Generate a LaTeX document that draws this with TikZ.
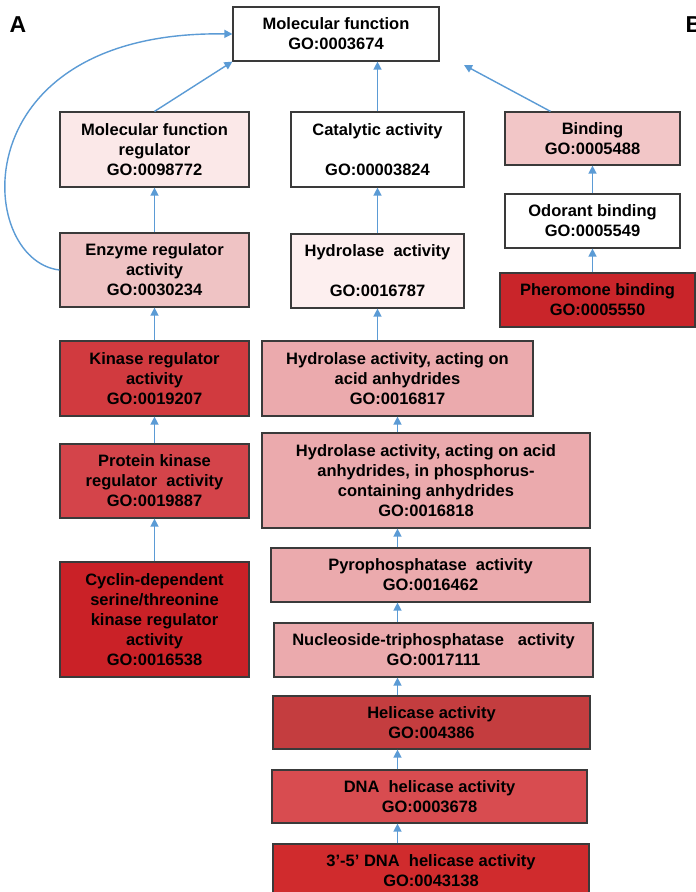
\documentclass[tikz,border=0pt]{standalone}
\usepackage{fontspec}
\setmainfont{Liberation Sans}
\usetikzlibrary{arrows.meta,calc}
\definecolor{boxline}{HTML}{3A3A3A}
\definecolor{arrblue}{HTML}{5B9BD5}
\definecolor{cvlA}{HTML}{FBE8E8}
\definecolor{cvlB}{HTML}{FDEFEF}
\definecolor{clA}{HTML}{EFC3C4}
\definecolor{clB}{HTML}{F2C6C7}
\definecolor{cpink}{HTML}{EBAAAD}
\definecolor{ckin}{HTML}{D13A3F}
\definecolor{cpk}{HTML}{D4444A}
\definecolor{ccyc}{HTML}{CA2127}
\definecolor{cpher}{HTML}{C9252A}
\definecolor{chel}{HTML}{C43D3F}
\definecolor{cdna}{HTML}{D84C50}
\definecolor{cthree}{HTML}{D02B2D}
\begin{document}
\begin{tikzpicture}[x=1pt,y=-1pt,
  box/.style={draw=boxline, line width=1.2pt, align=center, inner sep=0pt,
    font=\bfseries\fontsize{16.5}{20}\selectfont, text=black},
  arr/.style={draw=arrblue, line width=1.4pt, -{Triangle[length=8pt,width=8pt]}},
  letter/.style={font=\bfseries\fontsize{23}{23}\selectfont, text=black}]
\useasboundingbox (0,0) rectangle (696,892);
\fill[white] (0,0) rectangle (696,892);

\node[letter] (lA) at (18,25) {A};
\node[letter] (lB) at (694,25) {B};

\node[box, fill=white, minimum width=206pt, minimum height=54pt] (top) at (336,34) {Molecular function\\GO:0003674};

\node[box, fill=cvlA, minimum width=189pt, minimum height=75pt] (reg) at (154.5,149.5) {Molecular function\\regulator\\GO:0098772};
\node[box, fill=white, minimum width=173pt, minimum height=75pt] (cat) at (377.5,149.5) {Catalytic activity\\[20pt]GO:00003824};
\node[box, fill=clB, minimum width=175pt, minimum height=53pt] (bind) at (592.5,138.5) {Binding\\GO:0005488};
\node[box, fill=white, minimum width=175pt, minimum height=54pt] (od) at (592.5,221) {Odorant binding\\GO:0005549};
\node[box, fill=cpher, minimum width=195pt, minimum height=54pt] (pher) at (597.5,300) {Pheromone binding\\GO:0005550};

\node[box, fill=clA, minimum width=189pt, minimum height=74pt] (enz) at (154.5,270) {Enzyme regulator\\activity\\GO:0030234};
\node[box, fill=cvlB, minimum width=173pt, minimum height=74pt] (hyd) at (377.5,271) {Hydrolase\ \ activity\\[20pt]GO:0016787};

\node[box, fill=ckin, minimum width=189pt, minimum height=75pt] (kin) at (154.5,378.5) {Kinase regulator\\activity\\GO:0019207};
\node[box, fill=cpink, minimum width=271pt, minimum height=75pt] (aa) at (397.5,378.5) {Hydrolase activity, acting on\\acid anhydrides\\GO:0016817};

\node[box, fill=cpk, minimum width=189pt, minimum height=74pt] (pk) at (154.5,481) {Protein kinase\\regulator\ \ activity\\GO:0019887};
\node[box, fill=cpink, minimum width=328pt, minimum height=95pt] (ph) at (426,480.5) {Hydrolase activity, acting on acid\\anhydrides, in phosphorus-\\containing anhydrides\\GO:0016818};

\node[box, fill=ccyc, minimum width=189pt, minimum height=115pt] (cyc) at (154.5,619.5) {Cyclin-dependent\\serine/threonine\\kinase regulator\\activity\\GO:0016538};
\node[box, fill=cpink, minimum width=319pt, minimum height=54pt] (pyro) at (430.5,575) {Pyrophosphatase\ \ activity\\GO:0016462};
\node[box, fill=cpink, minimum width=319pt, minimum height=54pt] (nuc) at (433.5,650) {Nucleoside-triphosphatase\ \ \ activity\\GO:0017111};
\node[box, fill=chel, minimum width=317pt, minimum height=53pt] (hel) at (431.5,722.5) {Helicase activity\\GO:004386};
\node[box, fill=cdna, minimum width=315pt, minimum height=53pt] (dna) at (429.5,796.5) {DNA\ \ helicase activity\\GO:0003678};
\node[box, fill=cthree, minimum width=316pt, minimum height=54pt] (three) at (431,871) {3'-5' DNA\ \ helicase activity\\GO:0043138};

\coordinate (btip) at (464,65);

% left column
\draw[arr] (reg.north) -- (top.south west);
\draw[arr] (enz.north) -- (reg.south);
\draw[arr] (kin.north) -- (enz.south);
\draw[arr] (pk.north) -- (kin.south);
\draw[arr] (cyc.north) -- (pk.south);
\draw[arr] (enz.west) .. controls (-25,260) and (-40,30) .. (top.west);

% middle column
\draw[arr] (cat.north) -- (cat.north |- top.south);
\draw[arr] (hyd.north) -- (cat.south);
\draw[arr] (aa.north -| hyd.south) -- (hyd.south);
\draw[arr] (ph.north -| aa.south) -- (aa.south);
\draw[arr] (pyro.north -| aa.south) -- (ph.south -| aa.south);
\draw[arr] (nuc.north -| aa.south) -- (pyro.south -| aa.south);
\draw[arr] (hel.north -| aa.south) -- (nuc.south -| aa.south);
\draw[arr] (dna.north -| aa.south) -- (hel.south -| aa.south);
\draw[arr] (three.north -| aa.south) -- (dna.south -| aa.south);

% right column
\draw[arr] ($(bind.north)+(-42,0)$) -- (btip);
\draw[arr] (od.north) -- (bind.south);
\draw[arr] (pher.north -| od.south) -- (od.south);
\end{tikzpicture}
\end{document}
